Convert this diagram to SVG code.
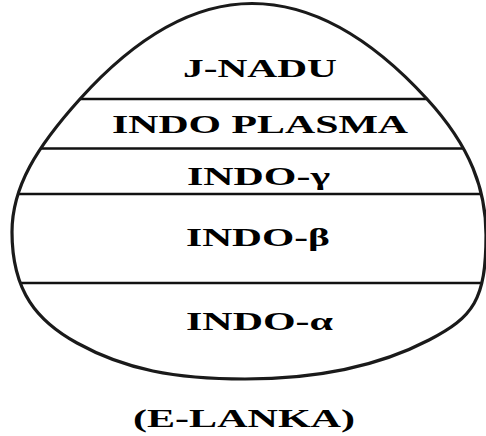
<svg xmlns="http://www.w3.org/2000/svg" width="486" height="436" viewBox="0 0 486 436">
<style>
.lbl{font-family:"Liberation Serif","Times New Roman",serif;font-weight:bold;font-size:26px;fill:#000}
.div{stroke:#111;stroke-width:2.6;fill:none}
.egg{stroke:#1a1a1a;stroke-width:3.2;fill:none}
</style>
<defs>
<path id="eggPath" d="M252,3.5 C310.33,3.5 368.67,35.33 427,99 C470.9,147 486,190 486,235 C486,300 473.4,316.9 429,340 C375.8,367.7 315,379 245,379 C175,379 125.1,369.6 77,343 C37.6,321.3 12,292 12,232 C12,187 36.5,147.3 80,99 C137.33,35.33 194.67,3.5 252,3.5 Z"/>
<clipPath id="eggClip"><use href="#eggPath"/></clipPath>
</defs>
<g id="connectors" clip-path="url(#eggClip)">
<line class="div" x1="0" y1="99" x2="486" y2="99"/>
<line class="div" x1="0" y1="148.5" x2="486" y2="148.5"/>
<line class="div" x1="0" y1="194" x2="486" y2="194"/>
<line class="div" x1="0" y1="283" x2="486" y2="283"/>
</g>
<g id="egg"><use href="#eggPath" class="egg"/></g>
<g id="j-nadu"><text class="lbl" x="183" y="77" textLength="154" lengthAdjust="spacingAndGlyphs">J-NADU</text></g>
<g id="indo-plasma"><text class="lbl" x="112" y="133" textLength="296" lengthAdjust="spacingAndGlyphs">INDO PLASMA</text></g>
<g id="indo-gamma"><text class="lbl" x="187" y="185" textLength="143" lengthAdjust="spacingAndGlyphs">INDO-γ</text></g>
<g id="indo-beta"><text class="lbl" x="186" y="246" textLength="144" lengthAdjust="spacingAndGlyphs">INDO-β</text></g>
<g id="indo-alpha"><text class="lbl" x="186" y="330" textLength="147" lengthAdjust="spacingAndGlyphs">INDO-α</text></g>
<g id="e-lanka"><text class="lbl" x="133" y="427" textLength="222" lengthAdjust="spacingAndGlyphs">(E-LANKA)</text></g>
</svg>
